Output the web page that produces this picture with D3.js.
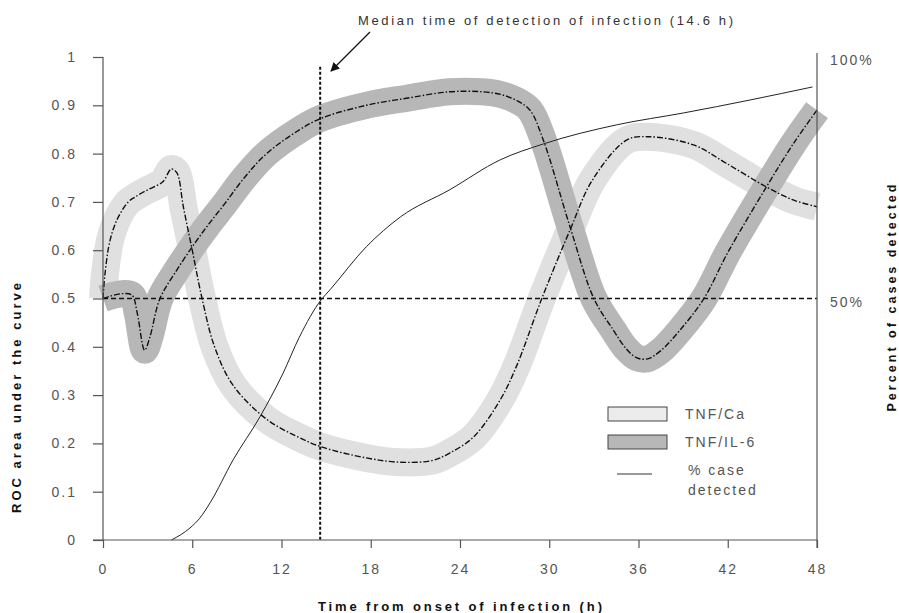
<!DOCTYPE html>
<html>
<head>
<meta charset="utf-8">
<script src="https://cdn.jsdelivr.net/npm/d3@7"></script>
<style>
  html, body { margin: 0; padding: 0; background: #fff; }
  svg { display: block; font-family: "Liberation Sans", Arial, sans-serif; }
</style>
</head>
<body>
<svg id="chart" width="899" height="613"></svg>
<script>
// ---- data ----
const xTicks = [0, 6, 12, 18, 24, 30, 36, 42, 48];
const yTicks = [0, 0.1, 0.2, 0.3, 0.4, 0.5, 0.6, 0.7, 0.8, 0.9, 1];
const yTickLabels = ["0", "0.1", "0.2", "0.3", "0.4", "0.5", "0.6", "0.7", "0.8", "0.9", "1"];
const rightTicks = [0.5, 1];
const rightTickLabels = ["50%", "100%"];

const caHours = [0, 0.13, 0.47, 1.0, 1.7, 2.15, 3.0, 4.0, 4.6, 4.97, 5.4, 6.0, 6.66, 7.5, 8.75, 11.0, 13.0, 14.66, 17.7, 20.0, 22.2, 23.3, 24.9, 26.7, 27.8, 29.5, 31.4, 32.9, 35.2, 36.6, 39.7, 41.9, 44.6, 46.4, 48];
const caValues = [0.50, 0.55, 0.62, 0.667, 0.70, 0.71, 0.725, 0.741, 0.768, 0.76, 0.69, 0.60, 0.50, 0.40, 0.32, 0.25, 0.215, 0.193, 0.17, 0.161, 0.165, 0.18, 0.213, 0.29, 0.36, 0.50, 0.642, 0.745, 0.828, 0.835, 0.818, 0.78, 0.731, 0.704, 0.69];

const il6Hours = [0, 0.5, 1.28, 1.95, 2.3, 2.8, 3.15, 3.83, 4.84, 6.0, 7.06, 8.2, 9.5, 11.0, 13.2, 14.66, 17.7, 20.5, 23.3, 25.5, 26.8, 27.8, 28.7, 29.6, 31.4, 33.0, 34.3, 35.2, 35.9, 36.6, 37.5, 38.8, 40.4, 42.0, 44.6, 46.4, 48];
const il6Values = [0.50, 0.505, 0.51, 0.507, 0.47, 0.393, 0.42, 0.50, 0.553, 0.607, 0.652, 0.697, 0.75, 0.80, 0.849, 0.873, 0.90, 0.915, 0.928, 0.928, 0.922, 0.91, 0.89, 0.828, 0.648, 0.50, 0.435, 0.395, 0.377, 0.375, 0.392, 0.435, 0.50, 0.595, 0.731, 0.82, 0.89];

const detHours = [4.6, 5.85, 6.5, 7.2, 8.75, 10.55, 12.1, 13.2, 14.66, 15.26, 17.7, 20.0, 23.3, 26.7, 29.6, 34.6, 39.0, 43.5, 47.7];
const detValues = [0, 0.025, 0.045, 0.077, 0.166, 0.255, 0.345, 0.42, 0.497, 0.518, 0.607, 0.669, 0.725, 0.787, 0.82, 0.86, 0.884, 0.911, 0.938];

const medianHour = 14.6;
const legendLabels = ["TNF/Ca", "TNF/IL-6"];

// ---- drawing ----
const svg = d3.select("#chart");
const x = d3.scaleLinear().domain([0, 48]).range([103, 817]);
const y = d3.scaleLinear().domain([0, 1]).range([540, 57]);

const axisColor = "#555";
const textColor = "#555";

const zip = (hs, vs) => hs.map((h, i) => [h, vs[i]]);
const line = d3.line().x(d => x(d[0])).y(d => y(d[1])).curve(d3.curveCatmullRom.alpha(0.5));
const lineMono = d3.line().x(d => x(d[0])).y(d => y(d[1])).curve(d3.curveMonotoneX);

const caData = zip(caHours, caValues);
const il6Data = zip(il6Hours, il6Values);
const detData = zip(detHours, detValues);

// bands
svg.append("path").attr("d", line(caData))
  .attr("fill", "none").attr("stroke", "#e0e0e0").attr("stroke-width", 28)
  .attr("stroke-linejoin", "round").attr("stroke-linecap", "butt");
svg.append("path").attr("d", line(il6Data))
  .attr("fill", "none").attr("stroke", "#b7b7b7").attr("stroke-width", 27)
  .attr("stroke-linejoin", "round").attr("stroke-linecap", "butt");

// reference lines
svg.append("line")
  .attr("x1", x(0)).attr("x2", x(48)).attr("y1", y(0.5)).attr("y2", y(0.5))
  .attr("stroke", "#111").attr("stroke-width", 1.6).attr("stroke-dasharray", "5,3");
svg.append("line")
  .attr("x1", x(medianHour)).attr("x2", x(medianHour)).attr("y1", y(0.98)).attr("y2", y(0))
  .attr("stroke", "#111").attr("stroke-width", 2).attr("stroke-dasharray", "3,2");

// center dash-dot lines
[caData, il6Data].forEach(d => {
  svg.append("path").attr("d", line(d))
    .attr("fill", "none").attr("stroke", "#111").attr("stroke-width", 1.4)
    .attr("stroke-dasharray", "6,2,1.5,2");
});

// % detected
svg.append("path").attr("d", lineMono(detData))
  .attr("fill", "none").attr("stroke", "#222").attr("stroke-width", 1);

// axes
const gL = svg.append("g").attr("transform", `translate(${x(0)},0)`)
  .call(d3.axisLeft(y).tickValues(yTicks).tickSize(10).tickPadding(16)
    .tickFormat((d, i) => yTickLabels[i]));
const gB = svg.append("g").attr("transform", `translate(0,${y(0)})`)
  .call(d3.axisBottom(x).tickValues(xTicks).tickSize(8).tickPadding(16));
[gL, gB].forEach(g => {
  g.select(".domain").remove();
  g.selectAll("line").attr("stroke", axisColor).attr("stroke-width", 1.2);
  g.selectAll("text").attr("fill", textColor).style("font-size", "14px")
    .style("letter-spacing", "2px");
});
svg.append("line").attr("x1", x(0)).attr("x2", x(0)).attr("y1", y(1)).attr("y2", y(0))
  .attr("stroke", axisColor).attr("stroke-width", 1.2);
svg.append("line").attr("x1", x(0) - 10).attr("x2", x(48)).attr("y1", y(0)).attr("y2", y(0))
  .attr("stroke", axisColor).attr("stroke-width", 1.2);
svg.append("line").attr("x1", x(48)).attr("x2", x(48)).attr("y1", 53).attr("y2", y(0) + 8)
  .attr("stroke", axisColor).attr("stroke-width", 1.2);

// right labels
svg.selectAll(".rl").data(rightTicks).enter().append("text")
  .attr("x", x(48) + 13).attr("y", d => y(d) + 8)
  .attr("fill", textColor).style("font-size", "14px").style("letter-spacing", "2px")
  .text((d, i) => rightTickLabels[i]);

// axis titles
svg.append("text").attr("x", 460).attr("y", 611).attr("text-anchor", "middle")
  .attr("fill", "#111").style("font-size", "13px").style("font-weight", "bold")
  .attr("textLength", 284).attr("lengthAdjust", "spacing")
  .text("Time from onset of infection (h)");
svg.append("text").attr("transform", "translate(21,398) rotate(-90)").attr("text-anchor", "middle")
  .attr("fill", "#111").style("font-size", "13px").style("font-weight", "bold")
  .attr("textLength", 230).attr("lengthAdjust", "spacing")
  .text("ROC area under the curve");
svg.append("text").attr("transform", "translate(896,298) rotate(-90)").attr("text-anchor", "middle")
  .attr("fill", "#111").style("font-size", "12.5px").style("font-weight", "bold")
  .attr("textLength", 227).attr("lengthAdjust", "spacing")
  .text("Percent of cases detected");

// annotation
svg.append("text").attr("x", 358).attr("y", 25)
  .attr("fill", "#333").style("font-size", "13px")
  .attr("textLength", 375).attr("lengthAdjust", "spacing")
  .text("Median time of detection of infection (14.6 h)");
svg.append("defs").append("marker").attr("id", "arr")
  .attr("viewBox", "0 0 10 10").attr("refX", 9).attr("refY", 5)
  .attr("markerWidth", 9).attr("markerHeight", 9).attr("orient", "auto")
  .attr("markerUnits", "userSpaceOnUse")
  .append("path").attr("d", "M0,0 L10,5 L0,10 z").attr("fill", "#111");
svg.append("line").attr("x1", 370).attr("y1", 32).attr("x2", 331).attr("y2", 71)
  .attr("stroke", "#111").attr("stroke-width", 1.2).attr("marker-end", "url(#arr)");

// legend
const legFill = ["#ececec", "#b7b7b7"];
legendLabels.forEach((lab, i) => {
  svg.append("rect").attr("x", 608).attr("y", 407 + i * 28).attr("width", 59).attr("height", 14)
    .attr("fill", legFill[i]).attr("stroke", "#444").attr("stroke-width", 1);
  svg.append("text").attr("x", 685).attr("y", 419 + i * 28)
    .attr("fill", textColor).style("font-size", "14px").style("letter-spacing", "2px").text(lab);
});
svg.append("line").attr("x1", 617).attr("x2", 652).attr("y1", 474).attr("y2", 474)
  .attr("stroke", "#333").attr("stroke-width", 1);
svg.append("text").attr("x", 688).attr("y", 475).attr("fill", textColor)
  .style("font-size", "14px").style("letter-spacing", "2px").text("% case");
svg.append("text").attr("x", 688).attr("y", 495).attr("fill", textColor)
  .style("font-size", "14px").style("letter-spacing", "2px").text("detected");
</script>
</body>
</html>
